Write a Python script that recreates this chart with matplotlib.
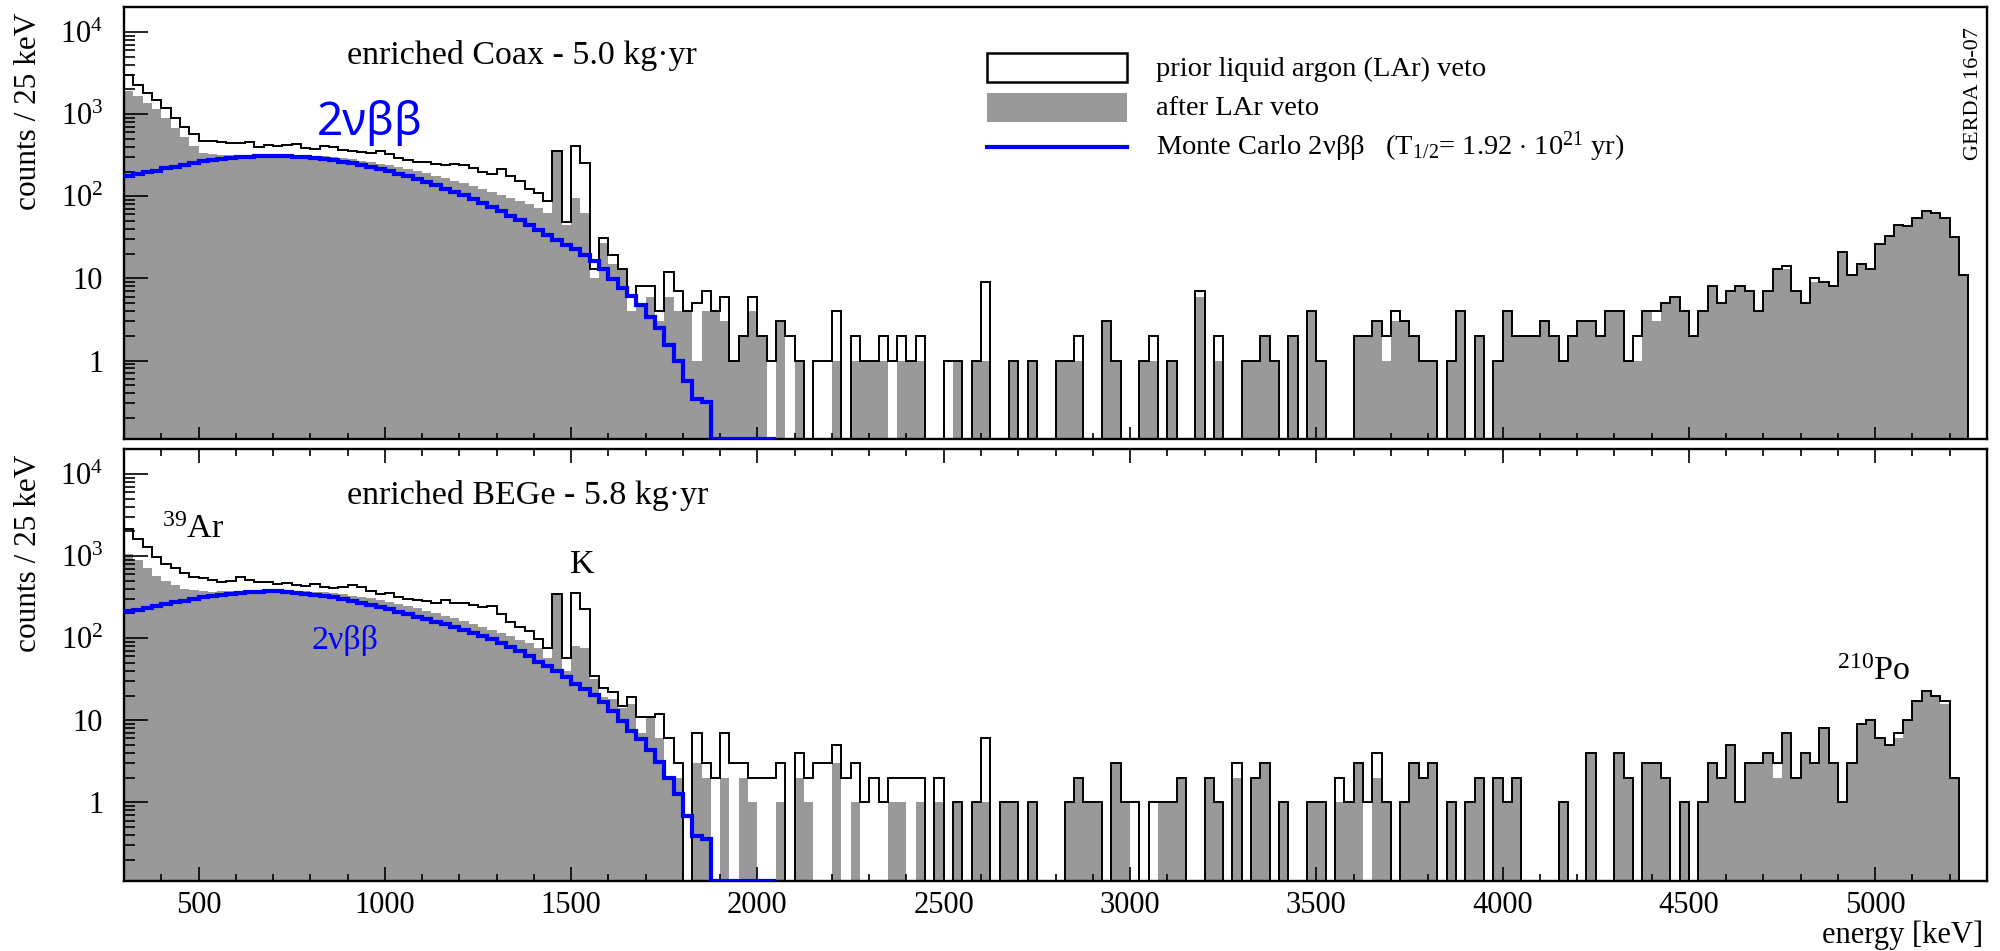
import numpy as np
import matplotlib
matplotlib.use("Agg")
import matplotlib.pyplot as plt
from matplotlib.ticker import FixedLocator, FixedFormatter, LogLocator, MultipleLocator, NullFormatter
from matplotlib.patches import Rectangle
from matplotlib.lines import Line2D

# ---------------- data ----------------
BIN_LOW_KEV = 300
BIN_WIDTH_KEV = 25

# enriched Coax (top panel): counts / 25 keV, bins starting at 300 keV
coax_prior = [
    2960, 2250, 1820, 1500, 1200, 900, 700, 570, 470, 465, 460, 450,
    440, 455, 400, 420, 410, 425, 435, 385, 372, 405, 400, 365,
    355, 345, 340, 360, 323, 295, 275, 258, 262, 250, 238, 248,
    240, 222, 197, 184, 212, 176, 153, 121, 110, 88, 360, 48,
    410, 256, 13, 31, 19, 13, 6, 8, 8, 4, 12, 7,
    4, 5, 7, 4, 6, 1, 2, 6, 2, 1, 3, 2,
    1, 0, 1, 1, 4, 0, 2, 1, 1, 2, 1, 2,
    1, 2, 0, 0, 1, 1, 0, 1, 9, 0, 0, 1,
    0, 1, 0, 0, 1, 1, 2, 0, 0, 3, 1, 0,
    0, 1, 2, 0, 1, 0, 0, 7, 0, 2, 0, 0,
    1, 1, 2, 1, 0, 2, 0, 4, 1, 0, 0, 0,
    2, 2, 3, 2, 4, 3, 2, 1, 1, 0, 1, 4,
    0, 2, 0, 1, 4, 2, 2, 2, 3, 2, 1, 2,
    3, 3, 2, 4, 4, 1, 2, 4, 4, 5, 6, 4,
    2, 4, 8, 5, 7, 8, 7, 4, 7, 13, 14, 7,
    5, 10, 9, 8, 21, 11, 15, 13, 26, 33, 45, 44,
    55, 66, 62, 55, 32, 11]
coax_after = [
    1900, 1660, 1380, 1150, 900, 680, 520, 410, 335, 325, 322, 320,
    318, 320, 318, 320, 318, 318, 315, 312, 310, 305, 300, 292,
    283, 272, 262, 250, 240, 228, 215, 202, 190, 178, 166, 155,
    143, 132, 122, 112, 104, 95, 88, 80, 72, 63, 355, 45,
    96, 63, 10, 27, 15, 13, 4, 5, 6, 3, 6, 4,
    4, 1, 4, 4, 3, 1, 2, 4, 2, 0, 3, 0,
    1, 0, 0, 0, 1, 0, 1, 1, 1, 1, 0, 1,
    1, 1, 0, 0, 0, 1, 0, 1, 1, 0, 0, 1,
    0, 1, 0, 0, 1, 1, 1, 0, 0, 3, 1, 0,
    0, 1, 1, 0, 1, 0, 0, 6, 0, 1, 0, 0,
    1, 1, 2, 1, 0, 2, 0, 4, 1, 0, 0, 0,
    2, 2, 3, 1, 3, 3, 2, 1, 1, 0, 1, 4,
    0, 2, 0, 1, 4, 2, 2, 2, 3, 2, 1, 2,
    3, 3, 2, 4, 4, 1, 1, 4, 3, 5, 6, 4,
    2, 4, 8, 5, 7, 8, 7, 4, 7, 13, 13, 7,
    5, 9, 9, 8, 21, 11, 15, 13, 26, 33, 45, 44,
    54, 66, 62, 55, 32, 11]
coax_mc = [
    178, 186, 195, 205, 218, 228, 240, 254, 266, 276, 285, 293,
    299, 303, 306, 308, 308, 306, 302, 297, 290, 283, 275, 264,
    253, 241, 228, 215, 201, 187, 174, 161, 148, 136, 124, 113,
    103, 93, 83, 74, 66, 58, 51, 45, 39, 34, 29.5, 25.5,
    22.5, 19.5, 16.3, 12.9, 9.8, 7.7, 6.1, 4.8, 3.4, 2.5, 1.55, 0.98,
    0.56, 0.34, 0.31, 0, 0, 0, 0, 0, 0, 0]

# enriched BEGe (bottom panel)
bege_prior = [
    2140, 1615, 1280, 985, 800, 717, 617, 551, 545, 511, 480, 500,
    550, 511, 480, 490, 460, 465, 450, 435, 460, 425, 410, 415,
    450, 415, 380, 345, 360, 315, 300, 292, 280, 266, 292, 272,
    266, 256, 237, 244, 196, 156, 135, 123, 98, 77, 345, 58,
    360, 227, 35, 25, 22, 15, 19, 11, 11, 12, 6, 3,
    0, 7, 3, 2, 7, 3, 3, 2, 2, 2, 3, 0,
    4, 2, 3, 3, 5, 2, 3, 1, 2, 1, 2, 2,
    2, 2, 0, 2, 0, 1, 0, 1, 6, 0, 1, 1,
    0, 1, 0, 0, 0, 1, 2, 1, 1, 0, 3, 1,
    1, 0, 1, 1, 1, 2, 0, 0, 2, 1, 0, 3,
    0, 2, 3, 0, 1, 0, 0, 1, 1, 0, 2, 1,
    3, 1, 4, 1, 0, 1, 3, 2, 3, 0, 1, 0,
    1, 2, 0, 2, 1, 2, 0, 0, 0, 0, 1, 0,
    0, 4, 0, 0, 4, 2, 0, 3, 3, 2, 0, 1,
    0, 1, 3, 2, 5, 1, 3, 3, 4, 3, 7, 2,
    4, 3, 8, 3, 1, 3, 9, 10, 6, 5, 7, 10,
    17, 23, 20, 17, 2, 0]
bege_after = [
    1060, 900, 725, 580, 500, 440, 400, 385, 375, 370, 372, 375,
    378, 380, 382, 385, 385, 383, 380, 375, 370, 362, 352, 342,
    330, 318, 305, 290, 276, 262, 247, 232, 217, 202, 188, 175,
    162, 150, 138, 127, 117, 106, 96, 87, 75, 58, 345, 40,
    81, 77, 32, 19, 18, 14, 16, 7, 11, 6, 2, 2,
    0, 3, 2, 0, 2, 0, 2, 1, 0, 0, 1, 0,
    2, 1, 0, 0, 3, 0, 1, 0, 0, 0, 1, 1,
    0, 1, 0, 1, 0, 1, 0, 1, 1, 0, 1, 1,
    0, 1, 0, 0, 0, 1, 2, 1, 1, 0, 3, 1,
    0, 0, 0, 1, 1, 2, 0, 0, 2, 1, 0, 2,
    0, 2, 3, 0, 1, 0, 0, 1, 1, 0, 1, 1,
    3, 0, 2, 1, 0, 1, 3, 2, 3, 0, 1, 0,
    1, 2, 0, 2, 1, 2, 0, 0, 0, 0, 1, 0,
    0, 4, 0, 0, 4, 2, 0, 3, 3, 2, 0, 1,
    0, 1, 3, 2, 5, 1, 3, 3, 4, 2, 7, 2,
    4, 3, 8, 3, 1, 3, 9, 10, 6, 5, 6, 10,
    17, 23, 20, 16, 2, 0]
bege_mc = [
    212, 222, 234, 247, 260, 273, 286, 300, 316, 329, 340, 350,
    357, 363, 368, 371, 372, 370, 360, 348, 337, 325, 314, 300,
    287, 272, 257, 240, 224, 210, 196, 183, 171, 159, 148, 136,
    126, 115, 106, 97, 88, 78, 69, 61, 52, 46, 40, 34,
    28, 24, 20.4, 16.5, 13, 9.9, 7.5, 5.9, 4.3, 3.1, 2.0, 1.26,
    0.69, 0.39, 0.36, 0, 0, 0, 0, 0, 0, 0]

x_tick_values = [500, 1000, 1500, 2000, 2500, 3000, 3500, 4000, 4500, 5000]
x_tick_labels = ["500", "1000", "1500", "2000", "2500", "3000", "3500", "4000", "4500", "5000"]
y_tick_values = [1, 10, 100, 1000, 10000]
y_tick_labels = ["1", "10", "$10^{2}$", "$10^{3}$", "$10^{4}$"]

X_RANGE = (300, 5300)
Y_RANGE = (0.11, 2.0e4)

legend_labels = ["prior liquid argon (LAr) veto",
                 "after LAr veto",
                 r"Monte Carlo 2νββ   (T$_{\mathregular{1/2}}$= 1.92 $\cdot$ 10$^{\mathregular{21}}$ yr)"]

# ---------------- style ----------------
plt.rcParams["font.family"] = ["Liberation Serif", "DejaVu Serif"]
plt.rcParams["mathtext.fontset"] = "custom"
plt.rcParams["mathtext.rm"] = "Liberation Serif"
plt.rcParams["mathtext.it"] = "Liberation Serif:italic"
plt.rcParams["mathtext.bf"] = "Liberation Serif:bold"

GRAY = "#999999"
BLUE = "#0000ff"
FLOOR = 1e-3

fig = plt.figure(figsize=(20, 9.51), dpi=100)
ax_top = fig.add_axes([0.062, 0.5381, 0.9315, 0.4543])
ax_bot = fig.add_axes([0.062, 0.0736, 0.9315, 0.4539])


def draw_panel(ax, prior, after, mc):
    prior = np.asarray(prior, dtype=float)
    after = np.asarray(after, dtype=float)
    mc = np.asarray(mc, dtype=float)
    edges = BIN_LOW_KEV + BIN_WIDTH_KEV * np.arange(len(prior) + 1)
    mc_edges = BIN_LOW_KEV + BIN_WIDTH_KEV * np.arange(len(mc) + 1)
    ax.set_yscale("log")
    ax.stairs(np.where(after > 0, after, FLOOR), edges, baseline=FLOOR,
              fill=True, color=GRAY, lw=0, zorder=1)
    ax.stairs(np.where(prior > 0, prior, FLOOR), edges, baseline=FLOOR,
              color="black", lw=1.4, zorder=2)
    ax.stairs(np.where(mc > 0, mc, Y_RANGE[0]), mc_edges, baseline=None,
              color=BLUE, lw=3.0, zorder=3)
    ax.set_xlim(*X_RANGE)
    ax.set_ylim(*Y_RANGE)
    ax.yaxis.set_major_locator(FixedLocator(y_tick_values))
    ax.yaxis.set_major_formatter(FixedFormatter(y_tick_labels))
    ax.yaxis.set_minor_locator(LogLocator(base=10, subs=np.arange(2, 10), numticks=50))
    ax.yaxis.set_minor_formatter(NullFormatter())
    ax.xaxis.set_major_locator(FixedLocator(x_tick_values))
    ax.xaxis.set_minor_locator(MultipleLocator(100))
    ax.tick_params(axis="y", which="major", direction="in", length=17, width=1.2,
                   labelsize=22, pad=15, left=True, right=False)
    ax.tick_params(axis="y", which="minor", direction="in", length=8, width=1.2,
                   left=True, right=False)
    for s in ax.spines.values():
        s.set_linewidth(1.7)


draw_panel(ax_top, coax_prior, coax_after, coax_mc)
draw_panel(ax_bot, bege_prior, bege_after, bege_mc)

ax_top.tick_params(axis="x", which="major", direction="in", length=8.6, width=1.2,
                   bottom=True, top=False, labelbottom=False)
ax_top.tick_params(axis="x", which="minor", direction="in", length=4.3, width=1.2,
                   bottom=True, top=False)
ax_bot.xaxis.set_major_formatter(FixedFormatter(x_tick_labels))
ax_bot.tick_params(axis="x", which="major", direction="in", length=10, width=1.2,
                   bottom=True, top=True, labelsize=22, pad=7)
ax_bot.tick_params(axis="x", which="minor", direction="in", length=5, width=1.2,
                   bottom=True, top=True)

# ---------------- annotations ----------------
ax_top.text(0.1197, 0.8687, "enriched Coax - 5.0 kg·yr", transform=ax_top.transAxes,
            fontsize=24.5, va="baseline", ha="left")
ax_top.text(0.1036, 0.704, "2νββ", transform=ax_top.transAxes, color=BLUE,
            fontsize=33, va="baseline", ha="left", family=["Noto Sans", "DejaVu Sans"])

ax_bot.text(0.1197, 0.8733, "enriched BEGe - 5.8 kg·yr", transform=ax_bot.transAxes,
            fontsize=24.5, va="baseline", ha="left")
ax_bot.text(0.0204, 0.794, r"$^{\mathregular{39}}$Ar", transform=ax_bot.transAxes,
            fontsize=24.5, va="baseline", ha="left")
ax_bot.text(0.2394, 0.7128, "K", transform=ax_bot.transAxes,
            fontsize=24.5, va="baseline", ha="left")
ax_bot.text(0.9195, 0.4656, r"$^{\mathregular{210}}$Po", transform=ax_bot.transAxes,
            fontsize=24.5, va="baseline", ha="left")
ax_bot.text(0.1004, 0.5367, "2νββ", transform=ax_bot.transAxes, color=BLUE,
            fontsize=24.5, va="baseline", ha="left")

# legend (manual, ROOT-like)
ax_top.add_patch(Rectangle((0.4632, 0.8278), 0.0753, 0.0657, transform=ax_top.transAxes,
                           facecolor="white", edgecolor="black", lw=1.8, zorder=5))
ax_top.add_patch(Rectangle((0.4632, 0.7352), 0.0753, 0.0657, transform=ax_top.transAxes,
                           facecolor=GRAY, edgecolor="none", zorder=5))
ax_top.add_line(Line2D([0.4632, 0.5385], [0.6773, 0.6773], transform=ax_top.transAxes,
                       color=BLUE, lw=3.0, zorder=5))
for yb, lab in zip([0.841, 0.7507, 0.658], legend_labels):
    ax_top.text(0.554, yb, lab, transform=ax_top.transAxes, fontsize=20.5,
                va="baseline", ha="left", zorder=6)

# axis titles
for ytop in (1 - 13 / 951, 1 - 455 / 951):
    fig.text(0.0143, ytop, "counts / 25 keV", rotation=90, va="top", ha="center",
             fontsize=22.5)
fig.text(0.9915, 1 - 935 / 951, "energy [keV]", ha="right", va="center", fontsize=22)
fig.text(0.987, 1 - 27 / 951, "GERDA 16-07", rotation=90, va="top", ha="center",
         fontsize=16)

fig.savefig("out.png", dpi=100)
